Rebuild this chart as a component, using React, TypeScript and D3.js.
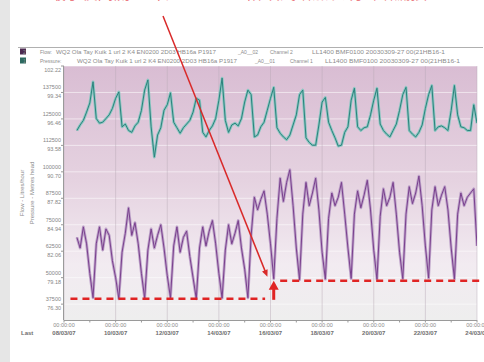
import React from "react";
import * as d3 from "d3";

const W = 484;
const H = 362;

// data: 3-hourly samples starting 08/03/07 12:00
const START = Date.UTC(2007, 2, 8, 12);
const STEP_HOURS = 3;

const flow = [
  69000, 64000, 74000, 66000,
  52000, 40500, 66000, 74000, 63000, 73000, 70000, 58000,
  50000, 40000, 62000, 71000, 83000, 70000, 76000, 66000,
  52000, 40200, 63000, 73000, 64000, 70000, 75000, 64000,
  51000, 40400, 65000, 74000, 62000, 69000, 72000, 60000,
  50000, 40000, 64000, 74000, 65000, 72000, 77000, 66000,
  52000, 40300, 63000, 75000, 66000, 71000, 77000, 64000,
  54000, 40500, 70000, 88000, 82000, 87000, 91000, 80000,
  66000, 49500, 78000, 97000, 86000, 95000, 101000, 84000,
  64000, 49000, 80000, 95000, 84000, 90000, 97000, 82000,
  62000, 49300, 78000, 90000, 84000, 88000, 95000, 80000,
  64000, 49600, 80000, 91000, 83000, 89000, 96000, 82000,
  63000, 49200, 79000, 92000, 84000, 88000, 95000, 80000,
  62000, 49500, 80000, 93000, 85000, 90000, 98000, 84000,
  65000, 49800, 82000, 93000, 84000, 89000, 93000, 82000,
  64000, 49400, 80000, 90000, 84000, 88000, 90000, 92000,
  65000,
];

const pressure = [
  95.2, 95.8, 96.3, 97.2,
  98.2, 100.5, 96.5, 96.0, 96.1, 96.5, 96.9, 97.6,
  98.7, 99.4, 95.6, 95.9, 95.2, 95.0, 95.7, 96.1,
  97.4, 99.6, 100.7, 95.6, 92.3, 94.7, 95.5, 97.4,
  98.0, 99.3, 96.1, 95.5, 94.9, 95.5, 95.9, 96.3,
  97.2, 98.7, 98.5, 95.0, 94.5, 95.2, 95.7, 96.5,
  98.5, 100.9, 96.3, 95.0, 95.8, 96.0, 95.7, 96.5,
  98.3, 99.6, 99.1, 94.5, 94.7, 95.6, 96.1, 97.4,
  98.7, 99.9, 95.5, 94.9, 94.5, 94.2, 94.7, 95.8,
  96.9, 99.1, 99.6, 94.4, 93.9, 93.6, 93.6, 95.8,
  98.3, 98.8, 96.1, 95.2, 94.4, 93.5, 93.6, 95.0,
  95.6, 98.5, 99.8, 95.6, 95.2, 95.5, 95.6, 96.9,
  98.5, 99.8, 95.9, 95.2, 94.8, 94.5, 95.2, 95.9,
  97.4, 99.1, 99.9, 95.2, 94.8, 94.5, 95.0, 95.8,
  97.6, 99.1, 100.1, 95.2, 95.6, 95.7, 95.5, 95.2,
  97.4, 100.1, 96.9, 95.6, 95.5, 95.2, 95.2, 98.0,
  96.0,
];

const flowTicks = [37500, 50000, 62500, 75000, 87500, 100000, 112500, 125000, 137500, 150000];
const pressureTicks = ["76.30", "79.18", "82.06", "84.94", "87.82", "90.70", "93.58", "96.46", "99.34", "102.22"];
const dateTicks = ["08/03/07", "10/03/07", "12/03/07", "14/03/07", "16/03/07", "18/03/07", "20/03/07", "22/03/07", "24/03/07"];
const timeLabel = "00:00:00";

// night-flow base levels (before / after the step)
const baseLevels = [40000, 48500];
const stepDate = Date.UTC(2007, 2, 16, 3);

const headline = ["最小夜间流量出现", "阶跃式增加表明新增漏损"];

const legendRows = [
  { color: "#4d2a50", parts: [["2", 23], ["Flow:", 40], ["WQ2 Ola Tay Kuik 1 url 2 K4 EN0200 2D03 HB16a P1917", 56, 160], ["_A0__02", 238], ["Channel 2", 270], ["LL1400 BMF0100 20030309-27 00(21HB16-1", 312, 133]] },
  { color: "#2d6a60", parts: [["1", 23], ["Pressure:", 40], ["WQ2 Ola Tay Kuik 1 url 2 K4 EN0200 2D03 HB16a P1917", 77, 160], ["_A0__01", 255], ["Channel 1", 290], ["LL1400 BMF0100 20030309-27 00(21HB16-1", 325, 135]] },
];

const FONT = "'Liberation Sans', Arial, sans-serif";

export default function App() {
  const x = d3.scaleUtc().domain([Date.UTC(2007, 2, 8), Date.UTC(2007, 2, 24)]).range([64, 477]);
  const yF = d3.scaleLinear().domain([30000, 150000]).range([320, 66]);
  const yP = d3.scaleLinear().domain([74.572, 102.22]).range([320, 66]);
  const [x0, x1] = x.range();
  const [yb, yt] = yF.range();

  const t = (i: number) => new Date(START + i * STEP_HOURS * 3600 * 1000);
  const flowLine = d3.line<number>().x((_, i) => x(t(i))).y((d) => yF(d));
  const presLine = d3.line<number>().x((_, i) => x(t(i))).y((d) => yP(d));

  const parse = d3.utcParse("%d/%m/%y");
  const dates = dateTicks.map((s) => parse(s) as Date);
  const days = d3.utcDay.range(x.domain()[0], new Date(+x.domain()[1] + 1));

  const preEnd = x(new Date(Date.UTC(2007, 2, 15, 19)));
  const preStart = x(new Date(Date.UTC(2007, 2, 8, 6)));
  const postStart = x(new Date(Date.UTC(2007, 2, 16, 9)));
  const sx = x(new Date(stepDate));
  const yLow = yF(baseLevels[0]);
  const yHigh = yF(baseLevels[1]);

  const tipX = x(new Date(Date.UTC(2007, 2, 15, 23))) - 2;
  const tipY = yHigh - 4;
  const fromX = 163, fromY = 16;
  const ang = Math.atan2(tipY - fromY, tipX - fromX);
  const ah = 7, aw = 3;
  const head = [
    [tipX, tipY],
    [tipX - ah * Math.cos(ang) + aw * Math.sin(ang), tipY - ah * Math.sin(ang) - aw * Math.cos(ang)],
    [tipX - ah * Math.cos(ang) - aw * Math.sin(ang), tipY - ah * Math.sin(ang) + aw * Math.cos(ang)],
  ];

  return (
    <svg width={W} height={H} style={{ position: "absolute", left: 0, top: 0, background: "#fff" }} fontFamily={FONT}>
      <defs>
        <linearGradient id="bg" x1="0" y1="0" x2="0" y2="1">
          <stop offset="0%" stopColor="#d9bdd3" />
          <stop offset="45%" stopColor="#e5d2e0" />
          <stop offset="78%" stopColor="#f2ebf1" />
          <stop offset="100%" stopColor="#eeeeee" />
        </linearGradient>
        <clipPath id="plot">
          <rect x={x0} y={yt} width={x1 - x0} height={yb - yt} />
        </clipPath>
      </defs>
      <rect x={0} y={0} width={10} height={H} fill="#e6e6e6" />

      {/* headline (cut at top) */}
      <text x={50} y={-1.5} fontSize={16} fill="#e3404a" fillOpacity={0.7} fontFamily="'Noto Sans CJK SC'" textLength={127} lengthAdjust="spacingAndGlyphs">{headline[0]}</text>
      <text x={247} y={-1.5} fontSize={16} fill="#e3404a" fillOpacity={0.7} fontFamily="'Noto Sans CJK SC'" textLength={180} lengthAdjust="spacingAndGlyphs">{headline[1]}</text>

      {/* legend */}
      <line x1={18} x2={483} y1={47.5} y2={47.5} stroke="#b0b0b0" strokeWidth={1} />
      {legendRows.map((r, ri) => (
        <g key={ri}>
          <rect x={20} y={48.5 + ri * 9} width={6} height={6} fill={r.color} />
          {r.parts.map((p, pi) => (
            <text key={pi} x={p[1] as number} y={54 + ri * 9} fontSize={5} fill="#8c8c8c"
              textLength={p[2] as number | undefined} lengthAdjust="spacingAndGlyphs">{p[0] as string}</text>
          ))}
        </g>
      ))}

      {/* plot background */}
      <rect x={x0} y={yt} width={x1 - x0} height={yb - yt} fill="url(#bg)" />
      {flowTicks.map((v) => (
        <line key={v} x1={x0} x2={x1} y1={yF(v)} y2={yF(v)} stroke="#ffffff" strokeOpacity={0.55} strokeWidth={1} />
      ))}
      {dates.map((d, i) => (
        <line key={i} x1={x(d)} x2={x(d)} y1={yt} y2={yb} stroke="#b9a8b6" strokeOpacity={0.45} strokeWidth={1} />
      ))}

      {/* series */}
      <g clipPath="url(#plot)">
        <path d={presLine(pressure) || ""} fill="none" stroke="#8cc6c2" strokeWidth={2.8} strokeLinejoin="round" />
        <path d={presLine(pressure) || ""} fill="none" stroke="#2a827c" strokeWidth={1} strokeLinejoin="round" />
        <path d={flowLine(flow) || ""} fill="none" stroke="#bea3c9" strokeWidth={2.8} strokeLinejoin="round" />
        <path d={flowLine(flow) || ""} fill="none" stroke="#7a408e" strokeWidth={1} strokeLinejoin="round" />
      </g>

      {/* axes */}
      <line x1={x0 - 0.5} x2={x0 - 0.5} y1={yt} y2={yb} stroke="#9a9a9a" />
      <line x1={x0} x2={x1} y1={yb + 0.5} y2={yb + 0.5} stroke="#9a9a9a" />
      {flowTicks.map((v, i) => (
        <g key={v}>
          <line x1={x0 - 3} x2={x0} y1={yF(v)} y2={yF(v)} stroke="#9a9a9a" />
          {i < flowTicks.length - 1 && (
            <text x={61} y={yF(v) - 3} fontSize={5.5} fill="#858585" textAnchor="end">{v}</text>
          )}
          <text x={61} y={yF(v) + 6} fontSize={5.5} fill="#858585" textAnchor="end">{pressureTicks[i]}</text>
        </g>
      ))}
      {days.map((d, i) => (
        <line key={i} x1={x(d)} x2={x(d)} y1={yb} y2={yb + 2.5} stroke="#9a9a9a" />
      ))}
      {dates.map((d, i) => (
        <g key={i}>
          <text x={x(d)} y={327} fontSize={5.5} fill="#8a8a8a" textAnchor="middle">{timeLabel}</text>
          <text x={x(d)} y={335} fontSize={6} fill="#6e6e6e" textAnchor="middle" fontWeight="bold">{dateTicks[i]}</text>
        </g>
      ))}
      <text x={21} y={335} fontSize={6} fill="#6e6e6e" fontWeight="bold">Last</text>
      <text transform={`translate(24,193) rotate(-90)`} fontSize={6} fill="#8a8a8a" textAnchor="middle">Flow - Litres/hour</text>
      <text transform={`translate(34,193) rotate(-90)`} fontSize={6} fill="#8a8a8a" textAnchor="middle">Pressure - Metres head</text>

      {/* annotations */}
      <line x1={preStart} x2={preEnd} y1={yLow} y2={yLow} stroke="#e02424" strokeWidth={2.5} strokeDasharray="7 5" />
      <line x1={postStart} x2={x1 + 3} y1={yHigh} y2={yHigh} stroke="#e02424" strokeWidth={2.5} strokeDasharray="7 5" />
      <line x1={sx} x2={sx} y1={yLow + 1} y2={yHigh + 7} stroke="#e02424" strokeWidth={3} />
      <path d={`M${sx},${yHigh} L${sx - 5},${yHigh + 9} L${sx + 5},${yHigh + 9} Z`} fill="#e02424" />
      <line x1={fromX} y1={fromY} x2={tipX - 4 * Math.cos(ang)} y2={tipY - 4 * Math.sin(ang)} stroke="#d92a2a" strokeWidth={1.5} />
      <path d={`M${head.map((p) => p.join(",")).join(" L")} Z`} fill="#d92a2a" />
    </svg>
  );
}
